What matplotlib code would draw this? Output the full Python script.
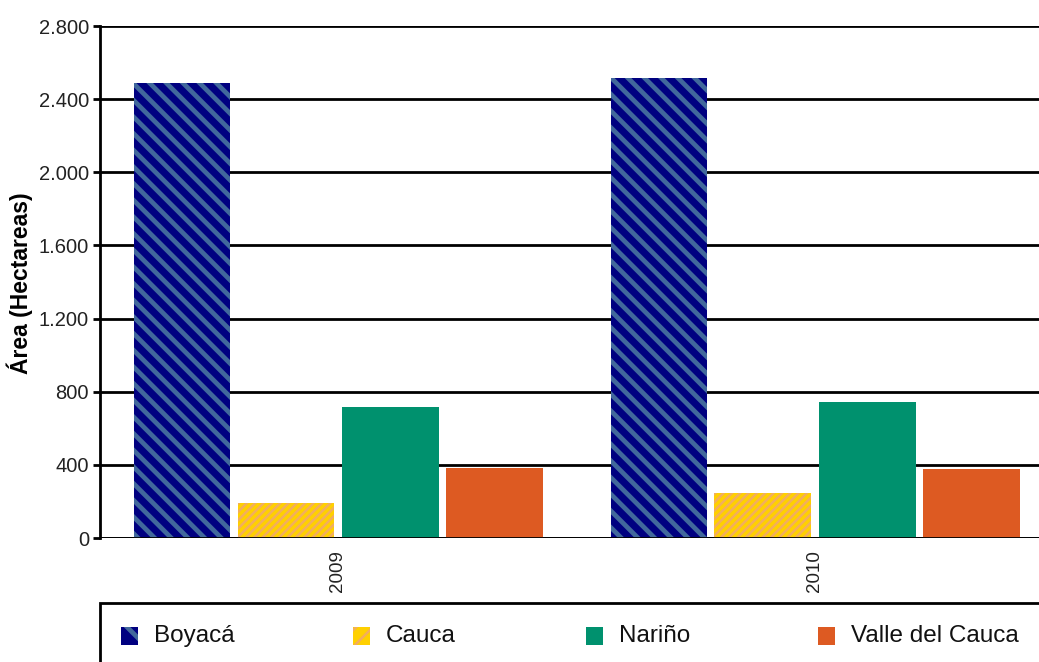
import matplotlib
matplotlib.use('Agg')
import matplotlib.pyplot as plt
from matplotlib.patches import Rectangle
from matplotlib.ticker import FuncFormatter
import numpy as np

plt.rcParams['font.family'] = ['Liberation Sans', 'DejaVu Sans']

years = ['2009', '2010']
departments = ['Boyacá', 'Cauca', 'Nariño', 'Valle del Cauca']
boyaca = [2490, 2515]
cauca = [190, 245]
narino = [718, 745]
valle = [383, 378]
series = [boyaca, cauca, narino, valle]

faces = ['#000080', '#FFD000', '#00916E', '#DD5A22']
hatch_cols = ['#41689C', '#F2AE5E', None, None]
hatches = ['\\\\', '////', None, None]
hatch_lw = [3.4, 1.8, None, None]

fig = plt.figure(figsize=(10.39, 6.62), dpi=100)
ax = fig.add_axes([100 / 1039, 1 - 538 / 662, 1 - 100 / 1039, 512 / 662])

x = np.arange(len(years))
width = 0.203
offsets = [-0.327, -0.109, 0.111, 0.329]


def set_hlw(patch, lw):
    if hasattr(patch, 'set_hatch_linewidth'):
        patch.set_hatch_linewidth(lw)


for vals, off, fc, hc, h, hl in zip(series, offsets, faces, hatch_cols, hatches, hatch_lw):
    if h:
        with plt.rc_context({'hatch.linewidth': hl}):
            bars = ax.bar(x + off, vals, width, facecolor=fc, edgecolor=hc, hatch=h,
                          linewidth=0, zorder=3)
        for b in bars:
            set_hlw(b, hl)
    else:
        ax.bar(x + off, vals, width, color=fc, linewidth=0, zorder=3)

ax.set_xlim(-0.499, 1.47)
ax.set_ylim(0, 2800)
ax.set_yticks(np.arange(0, 2801, 400))
ax.yaxis.set_major_formatter(FuncFormatter(lambda v, p: f'{int(v):,}'.replace(',', '.')))
ax.yaxis.grid(True, color='black', linewidth=2, zorder=1)
ax.set_axisbelow(True)

for s in ['top', 'right', 'bottom']:
    ax.spines[s].set_visible(False)
ax.spines['left'].set_linewidth(2)
ax.axhline(0, color='black', linewidth=2, zorder=4)

ax.set_xticks(x)
ax.set_xticklabels(years, rotation=90, fontsize=13.5, color='#222222')
ax.tick_params(axis='x', length=0, pad=9)
ax.tick_params(axis='y', length=5, width=2, labelsize=14.5, labelcolor='#222222', pad=3)

fig.text(20 / 1039, 1 - 283 / 662, 'Área (Hectareas)', rotation=90, ha='center',
         va='center', fontsize=16.5, fontweight='bold')

# legend box along the bottom
fig.patches.append(Rectangle((100 / 1039, -0.05), 1.0, 1 - 603 / 662 + 0.05,
                             transform=fig.transFigure, facecolor='white',
                             edgecolor='black', linewidth=2))
leg_x = [121, 353, 586, 818]
leg_y = 1 - 636 / 662
for lx, name, fc, hc, h, hl in zip(leg_x, departments, faces, hatch_cols, hatches, hatch_lw):
    kw = dict(transform=fig.transFigure, facecolor=fc, linewidth=0)
    if h:
        kw.update(edgecolor=hc, hatch=h[:len(h) // 2])
        with plt.rc_context({'hatch.linewidth': hl}):
            r = Rectangle((lx / 1039, leg_y - 9 / 662), 17 / 1039, 18 / 662, **kw)
        set_hlw(r, hl)
    else:
        r = Rectangle((lx / 1039, leg_y - 9 / 662), 17 / 1039, 18 / 662, **kw)
    fig.patches.append(r)
    fig.text((lx + 33) / 1039, leg_y, name, ha='left', va='center', fontsize=17.5,
             color='#111111')

fig.savefig('out.png', dpi=100, facecolor='white')
